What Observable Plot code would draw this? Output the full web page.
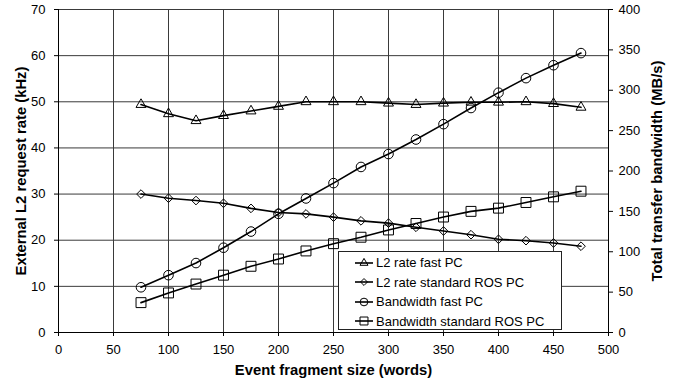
<!DOCTYPE html>
<html>
<head>
<meta charset="utf-8">
<script src="https://cdn.jsdelivr.net/npm/d3@7"></script>
<script src="https://cdn.jsdelivr.net/npm/@observablehq/plot@0.6"></script>
<style>
  body { margin: 0; background: #fff; }
  #wrap { position: relative; width: 680px; height: 383px; font-family: Arial, "Liberation Sans", sans-serif; }
  #legend { position: absolute; left: 338px; top: 251px; width: 222px; height: 76px; background: #fff; border: 1px solid #222; padding-top: 1px; }
  .row { height: 19.5px; display: flex; align-items: center; font-size: 13px; color: #000; white-space: nowrap; }
  .row svg { margin-left: 16px; margin-right: 3px; }
</style>
</head>
<body>
<div id="wrap"></div>
<script>
const xWords = [75, 100, 125, 150, 175, 200, 225, 250, 275, 300, 325, 350, 375, 400, 425, 450, 475];
const l2Fast = [49.4, 47.4, 45.9, 47.0, 48.0, 49.0, 50.0, 50.0, 50.0, 49.7, 49.4, 49.7, 49.9, 49.9, 50.0, 49.6, 48.8];
const l2Std  = [30.0, 29.1, 28.6, 28.0, 26.9, 26.0, 25.7, 25.0, 24.2, 23.7, 22.8, 22.0, 21.2, 20.2, 19.9, 19.4, 18.7];
const bwFast = [56, 71, 86, 105, 125, 147, 166, 185, 205, 221, 239, 258, 278, 297, 315, 331, 346];
const bwStd  = [37, 49, 60, 71, 82, 91, 101, 110, 118, 127, 135, 143, 150, 154, 161, 168, 175];
const seriesNames = ["L2 rate fast PC", "L2 rate standard ROS PC", "Bandwidth fast PC", "Bandwidth standard ROS PC"];
const seriesSymbols = ["triangle", "diamond2", "circle", "square"];
const xTicks = [0, 50, 100, 150, 200, 250, 300, 350, 400, 450, 500];
const leftTicks = [0, 10, 20, 30, 40, 50, 60, 70];
const rightTicks = [0, 50, 100, 150, 200, 250, 300, 350, 400];
const xTitle = "Event fragment size (words)";
const leftTitle = "External L2 request rate (kHz)";
const rightTitle = "Total transfer bandwidth (MB/s)";

const LEFT_MAX = 70, RIGHT_MAX = 400;
const toLeft = v => v * LEFT_MAX / RIGHT_MAX;

const rows = [];
xWords.forEach((x, i) => {
  rows.push({x, y: l2Fast[i], s: 0});
  rows.push({x, y: l2Std[i], s: 1});
  rows.push({x, y: toLeft(bwFast[i]), s: 2});
  rows.push({x, y: toLeft(bwStd[i]), s: 3});
});
const symR = [3.7, 3.9, 4.8, 5.6];

const marks = [
  Plot.gridX(xTicks, {stroke: "#3a3a3a", strokeOpacity: 1}),
  Plot.gridY(leftTicks, {stroke: "#3a3a3a", strokeOpacity: 1}),
  Plot.ruleX([0, 500], {stroke: "#000"}),
  Plot.ruleY([0], {stroke: "#000"}),
  Plot.axisX(xTicks, {label: null, tickSize: 4, tickPadding: 8, fontSize: 13}),
  Plot.axisY(leftTicks, {anchor: "left", label: null, tickSize: 4, tickPadding: 9, fontSize: 13}),
  Plot.axisY(rightTicks.map(toLeft), {anchor: "right", label: null, tickSize: 4, tickPadding: 6, fontSize: 13,
    tickFormat: d => String(Math.round(d * RIGHT_MAX / LEFT_MAX))})
];
for (let s = 0; s < 4; s++) {
  const d = rows.filter(r => r.s === s);
  marks.push(Plot.line(d, {x: "x", y: "y", stroke: "#000", strokeWidth: 1.6}));
  marks.push(Plot.dot(d, {x: "x", y: "y", symbol: () => seriesSymbols[s], r: symR[s], fill: "none", stroke: "#000", strokeWidth: 1}));
}
marks.push(Plot.text([xTitle], {frameAnchor: "bottom", textAnchor: "middle", dy: 42, fontWeight: "bold", fontSize: 14.8}));
marks.push(Plot.text([leftTitle], {frameAnchor: "left", textAnchor: "middle", rotate: -90, dx: -37, fontWeight: "bold", fontSize: 14.8}));
marks.push(Plot.text([rightTitle], {frameAnchor: "right", textAnchor: "middle", rotate: -90, dx: 49, fontWeight: "bold", fontSize: 14.8}));

const chart = Plot.plot({
  width: 680, height: 383,
  marginLeft: 58, marginRight: 72, marginTop: 9, marginBottom: 51,
  x: {domain: [0, 500]},
  y: {domain: [0, 70]},
  symbol: {type: "identity"},
  style: {fontFamily: "Arial, 'Liberation Sans', sans-serif", fontSize: "13px", color: "#000", background: "#fff"},
  marks
});
const wrap = document.getElementById("wrap");
wrap.appendChild(chart);

// legend
const legend = document.createElement("div");
legend.id = "legend";
const symMap = {triangle: d3.symbolTriangle, diamond2: d3.symbolDiamond2, circle: d3.symbolCircle, square: d3.symbolSquare};
seriesNames.forEach((name, i) => {
  const row = document.createElement("div");
  row.className = "row";
  const svg = d3.create("svg").attr("width", 18).attr("height", 12);
  svg.append("line").attr("x1", 0).attr("x2", 18).attr("y1", 6).attr("y2", 6).attr("stroke", "#000").attr("stroke-width", 1.6);
  const rr = symR[i] * 0.8;
  svg.append("path").attr("transform", "translate(9,6)")
    .attr("d", d3.symbol(symMap[seriesSymbols[i]], Math.PI * rr * rr)())
    .attr("fill", "none").attr("stroke", "#000");
  row.appendChild(svg.node());
  const span = document.createElement("span");
  span.textContent = name;
  row.appendChild(span);
  legend.appendChild(row);
});
wrap.appendChild(legend);
</script>
</body>
</html>
